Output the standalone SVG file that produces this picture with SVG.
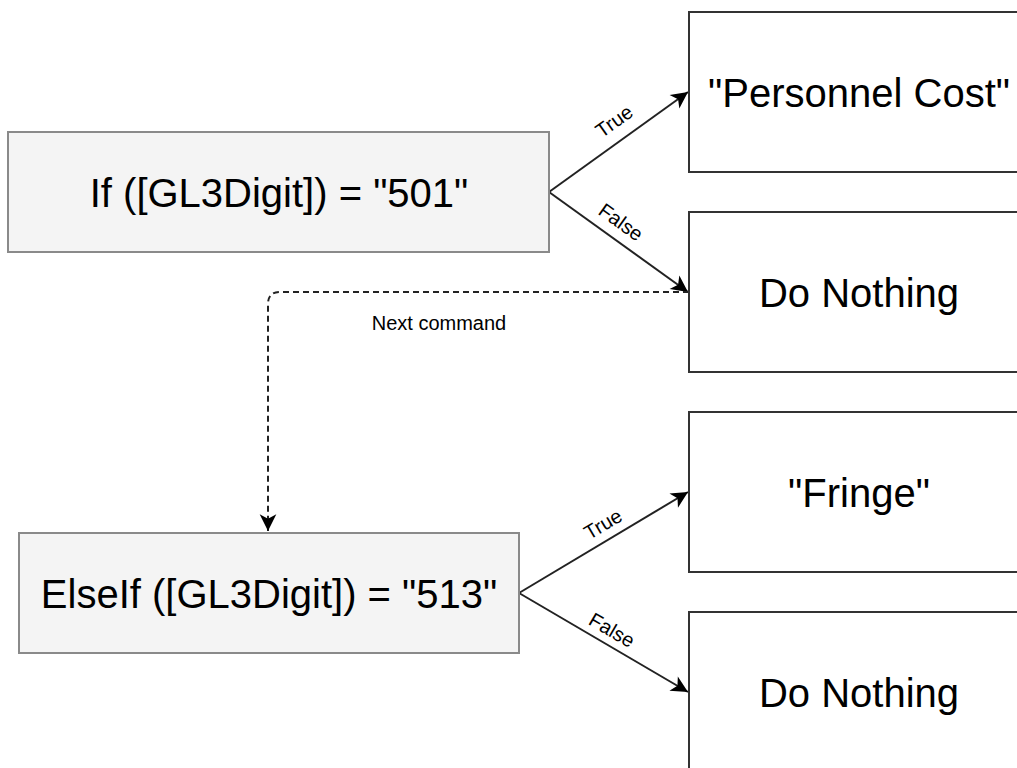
<svg xmlns="http://www.w3.org/2000/svg" width="1017" height="768" viewBox="0 0 1017 768">
<style>
.cond{fill:#f4f4f4;stroke:#8a8a8a;stroke-width:2}
.res{fill:#ffffff;stroke:#333333;stroke-width:2}
.big{font-family:"Liberation Sans",Arial,sans-serif;font-size:40px;fill:#000;text-anchor:middle}
.lbl{font-family:"Liberation Sans",Arial,sans-serif;font-size:20px;fill:#000;text-anchor:middle;dominant-baseline:central}
.edge{fill:none;stroke:#222;stroke-width:2}
.dash{fill:none;stroke:#222;stroke-width:2;stroke-dasharray:6 4}
</style>
<defs>
<marker id="arr" markerUnits="userSpaceOnUse" markerWidth="20" markerHeight="20" viewBox="-16 -9 17 18" refX="0" refY="0" orient="auto">
<path d="M0,0 L-15,-7.5 L-11,0 L-15,7.5 Z" fill="#000"/>
</marker>
</defs>
<rect width="1017" height="768" fill="#fff"/>
<g id="connectors">
<path class="edge" d="M549,192 L688,92" marker-end="url(#arr)"/>
<path class="edge" d="M549,192 L688,292" marker-end="url(#arr)"/>
<path class="edge" d="M519,593 L688,492" marker-end="url(#arr)"/>
<path class="edge" d="M519,593 L688,692" marker-end="url(#arr)"/>
<path class="dash" d="M689,292 L280,292 Q268,292 268,304 L268,531" marker-end="url(#arr)"/>
<text class="lbl" transform="translate(614,121) rotate(-35.5)">True</text>
<text class="lbl" transform="translate(621,222) rotate(35.5)">False</text>
<text class="lbl" transform="translate(603,524) rotate(-30.7)">True</text>
<text class="lbl" transform="translate(612,630) rotate(30.2)">False</text>
<text class="lbl" x="439" y="323" font-size="21">Next command</text>
</g>
<g id="if501">
<rect class="cond" x="8" y="132" width="541" height="120"/>
<text class="big" x="279" y="207">If ([GL3Digit]) = "501"</text>
</g>
<g id="elseif513">
<rect class="cond" x="19" y="533" width="500" height="120"/>
<text class="big" x="269" y="608">ElseIf ([GL3Digit]) = "513"</text>
</g>
<g id="personnel">
<rect class="res" x="689" y="12" width="340" height="160"/>
<text class="big" x="859" y="107">"Personnel Cost"</text>
</g>
<g id="nothing1">
<rect class="res" x="689" y="212" width="340" height="160"/>
<text class="big" x="859" y="307">Do Nothing</text>
</g>
<g id="fringe">
<rect class="res" x="689" y="412" width="340" height="160"/>
<text class="big" x="859" y="507">"Fringe"</text>
</g>
<g id="nothing2">
<rect class="res" x="689" y="612" width="340" height="160"/>
<text class="big" x="859" y="707">Do Nothing</text>
</g>
</svg>
